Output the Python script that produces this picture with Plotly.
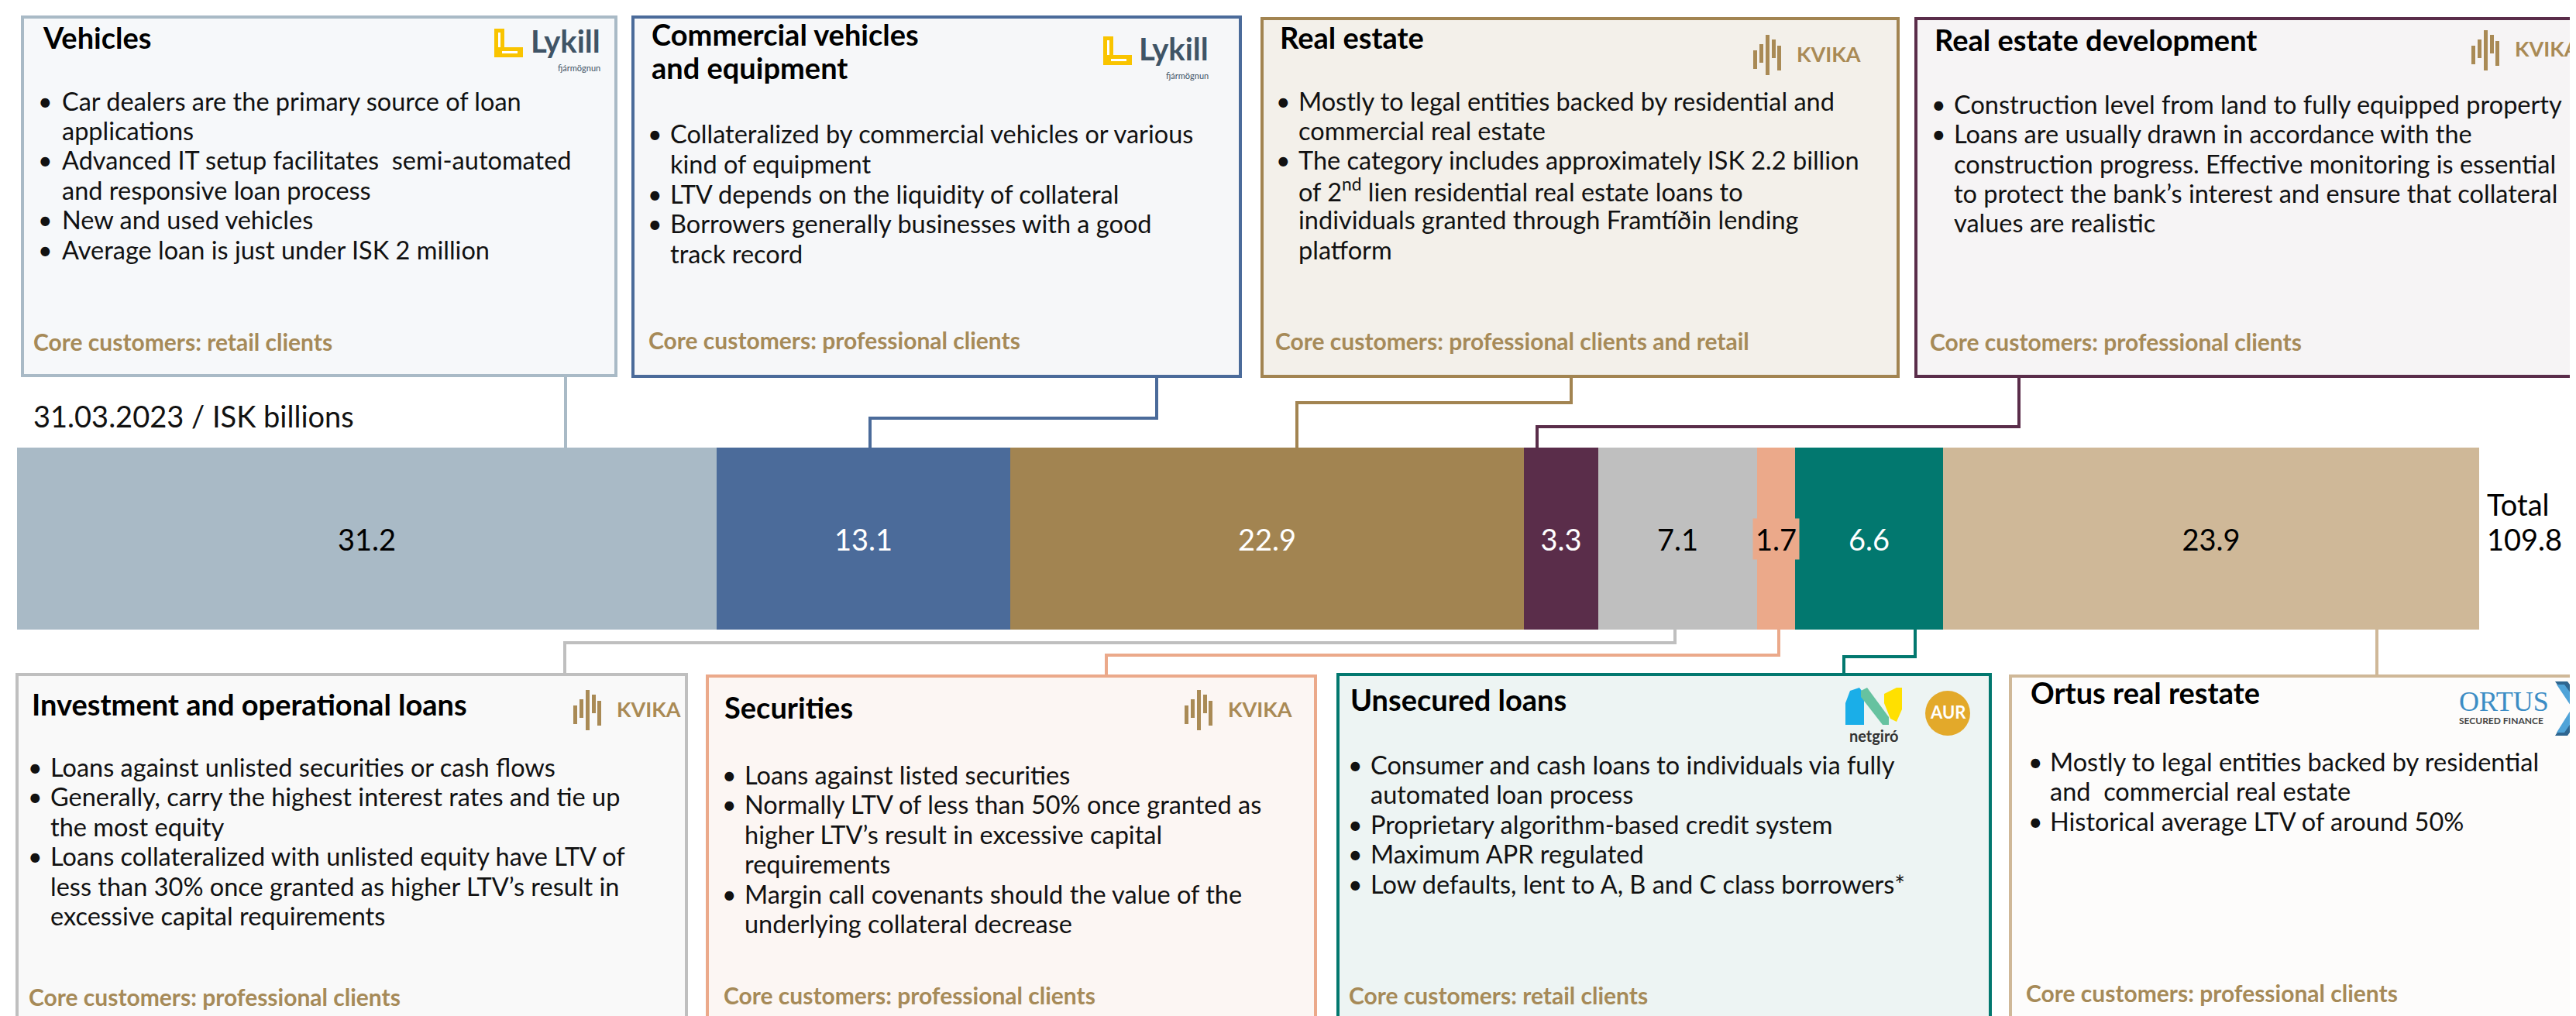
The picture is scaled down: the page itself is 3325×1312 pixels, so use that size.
import plotly.graph_objects as go

# ---------------- data ----------------
categories = ["Vehicles", "Commercial vehicles and equipment", "Real estate",
              "Real estate development", "Investment and operational loans",
              "Securities", "Unsecured loans", "Ortus real restate"]
values = [31.2, 13.1, 22.9, 3.3, 7.1, 1.7, 6.6, 23.9]
bar_colors = ["#A9BAC6", "#4B6B9A", "#A28451", "#5A2D4A",
              "#BFBFBF", "#EBA98A", "#02786F", "#CFB898"]
label_colors = ["#000000", "#FFFFFF", "#FFFFFF", "#FFFFFF",
                "#000000", "#000000", "#FFFFFF", "#000000"]
date_label = "31.03.2023 / ISK billions"
total_label = "Total"

box_titles = {
    "veh": ["Vehicles"],
    "com": ["Commercial vehicles", "and equipment"],
    "re": ["Real estate"],
    "red": ["Real estate development"],
    "inv": ["Investment and operational loans"],
    "sec": ["Securities"],
    "uns": ["Unsecured loans"],
    "ort": ["Ortus real restate"],
}
box_bullets = {
    "veh": [["Car dealers are the primary source of loan", "applications"],
            ["Advanced IT setup facilitates  semi-automated", "and responsive loan process"],
            ["New and used vehicles"],
            ["Average loan is just under ISK 2 million"]],
    "com": [["Collateralized by commercial vehicles or various", "kind of equipment"],
            ["LTV depends on the liquidity of collateral"],
            ["Borrowers generally businesses with a good", "track record"]],
    "re": [["Mostly to legal entities backed by residential and", "commercial real estate"],
           ["The category includes approximately ISK 2.2 billion",
            "of 2<sup>nd</sup> lien residential real estate loans to",
            "individuals granted through Framtíðin lending", "platform"]],
    "red": [["Construction level from land to fully equipped property"],
            ["Loans are usually drawn in accordance with the",
             "construction progress. Effective monitoring is essential",
             "to protect the bank’s interest and ensure that collateral",
             "values are realistic"]],
    "inv": [["Loans against unlisted securities or cash flows"],
            ["Generally, carry the highest interest rates and tie up", "the most equity"],
            ["Loans collateralized with unlisted equity have LTV of",
             "less than 30% once granted as higher LTV’s result in",
             "excessive capital requirements"]],
    "sec": [["Loans against listed securities"],
            ["Normally LTV of less than 50% once granted as",
             "higher LTV’s result in excessive capital", "requirements"],
            ["Margin call covenants should the value of the",
             "underlying collateral decrease"]],
    "uns": [["Consumer and cash loans to individuals via fully", "automated loan process"],
            ["Proprietary algorithm-based credit system"],
            ["Maximum APR regulated"],
            ["Low defaults, lent to A, B and C class borrowers*"]],
    "ort": [["Mostly to legal entities backed by residential",
             "and  commercial real estate"],
            ["Historical average LTV of around 50%"]],
}
box_core = {
    "veh": "Core customers: retail clients",
    "com": "Core customers: professional clients",
    "re": "Core customers: professional clients and retail",
    "red": "Core customers: professional clients",
    "inv": "Core customers: professional clients",
    "sec": "Core customers: professional clients",
    "uns": "Core customers: retail clients",
    "ort": "Core customers: professional clients",
}

# ---------------- layout geometry (pixels) ----------------
W, H = 3325, 1312
BAR_L, BAR_R = 14, 3192
BAR_T, BAR_B = 570, 805
FONT = "Lato"
GOLD = "#A68A58"
TY = -8  # vertical optical correction for text

total = round(sum(values), 1)
scale = (BAR_R - BAR_L) / total
x_range = [-BAR_L / scale, (W - BAR_L) / scale]

fig = go.Figure()
bases = []
acc = 0.0
for v in values:
    bases.append(acc)
    acc += v

for i, (cat, v) in enumerate(zip(categories, values)):
    kw = {}
    if v >= 2:
        kw = dict(text=[f"{v:.1f}"], textposition="inside",
                  insidetextanchor="middle", textangle=0, constraintext="none",
                  textfont=dict(family=FONT, size=38, color=label_colors[i]))
    fig.add_trace(go.Bar(
        x=[v], y=[(BAR_T + BAR_B) / 2], orientation="h", width=[BAR_B - BAR_T],
        name=cat, marker=dict(color=bar_colors[i], line=dict(width=0)),
        showlegend=False, hoverinfo="skip", **kw))

shapes = []
annotations = []


def px(x):
    return x / W


def py(y):
    return 1 - y / H


def rect(x0, y0, x1, y1, fill, line_color=None, lw=0):
    shapes.append(dict(type="rect", xref="paper", yref="paper",
                       x0=px(x0), x1=px(x1), y0=py(y1), y1=py(y0),
                       fillcolor=fill,
                       line=dict(color=line_color or fill, width=lw)))


def poly(points, color, lw, fill=None, closed=False):
    d = "M " + " L ".join(f"{px(x):.6f},{py(y):.6f}" for x, y in points)
    if closed:
        d += " Z"
    shapes.append(dict(type="path", xref="paper", yref="paper", path=d,
                       fillcolor=fill if fill else "rgba(0,0,0,0)",
                       line=dict(color=color, width=lw)))


def circle(cx, cy, r, fill):
    shapes.append(dict(type="circle", xref="paper", yref="paper",
                       x0=px(cx - r), x1=px(cx + r), y0=py(cy + r), y1=py(cy - r),
                       fillcolor=fill, line=dict(width=0)))


def text(x, y, s, size, color="#111111", bold=False, family=FONT, xanchor="left",
         yanchor="middle"):
    annotations.append(dict(xref="paper", yref="paper", x=px(x), y=py(y), text=s,
                            showarrow=False, xanchor=xanchor, yanchor=yanchor,
                            font=dict(family=family, size=size, color=color,
                                      weight=700 if bold else 400)))


# boxes: key -> (x0, y0, x1, y1, border, fill, title_x, title_ys, bullet_x, text_x, first_line, core_x, core_y)
boxes = {
    "veh": (21, 14, 787, 477, "#A9BAC6", "#F6F8FA", 50, [52], 52, 77, 130, 36, 441),
    "com": (809, 14, 1593, 478, "#4B6B9A", "#F6F7F9", 836, [48, 91], 839, 862, 173, 830, 439),
    "re": (1621, 16, 2442, 478, "#A28451", "#F3F0EA", 1647, [52], 1650, 1673, 130, 1639, 440),
    "red": (2465, 16, 3340, 478, "#5A2D4A", "#F6F4F5", 2492, [55], 2496, 2519, 134, 2484, 441),
    "inv": (14, 863, 878, 1330, "#BFBFBF", "#F9F9F9", 36, [913], 39, 62, 990, 30, 1287),
    "sec": (905, 865, 1690, 1330, "#EBA98A", "#FCF6F3", 930, [917], 935, 958, 1000, 927, 1285),
    "uns": (1719, 863, 2561, 1330, "#02786F", "#EDF4F3", 1738, [907], 1743, 1766, 987, 1734, 1285),
    "ort": (2587, 865, 3340, 1330, "#CFB898", "#FDFCFB", 2616, [898], 2621, 2643, 983, 2608, 1282),
}
LINE_H = 38.5

for key, (x0, y0, x1, y1, bc, fc, tx, tys, bx, txx, fl, cx, cy) in boxes.items():
    rect(x0, y0, x1, y1, fc, bc, 4)
    for t, ty in zip(box_titles[key], tys):
        text(tx - 5, ty + TY - 4, t, 38, "#000000", bold=True)
    li = 0
    for bullet in box_bullets[key]:
        for j, line in enumerate(bullet):
            yy = fl + li * LINE_H + TY
            if j == 0:
                text(bx - 13, yy, "•", 32, "#111111")
            text(txx - 7, yy, line, 32.5, "#111111")
            li += 1
    text(cx - 3, cy + TY, box_core[key], 30, GOLD, bold=True)

# connectors
conn = [
    ([(722, 477), (722, BAR_T)], "#A9BAC6"),
    ([(1485, 478), (1485, 532), (1115, 532), (1115, BAR_T)], "#4B6B9A"),
    ([(2020, 478), (2020, 512), (1666, 512), (1666, BAR_T)], "#A28451"),
    ([(2598, 478), (2598, 543), (1976, 543), (1976, BAR_T)], "#5A2D4A"),
    ([(2154, BAR_B), (2154, 822), (721, 822), (721, 863)], "#BFBFBF"),
    ([(2288, BAR_B), (2288, 838), (1420, 838), (1420, 865)], "#EBA98A"),
    ([(2464, BAR_B), (2464, 840), (2372, 840), (2372, 863)], "#02786F"),
    ([(3060, BAR_B), (3060, 865)], "#CFB898"),
]
for pts, c in conn:
    poly(pts, c, 4)


# ---------------- logos ----------------
def lykill(ix, iy, right):
    yel = "#F9C400"
    rect(ix, iy, ix + 13, iy + 37, yel)
    rect(ix, iy + 24, ix + 37, iy + 37, yel)
    rect(ix + 5, iy + 5, ix + 8, iy + 24, "#FFFFFF")
    rect(ix + 10, iy + 29, ix + 30, iy + 32, "#FFFFFF")
    text(right, iy + 42, "Lykill", 40, "#3F5466", bold=True, xanchor="right", yanchor="bottom")
    text(right, iy + 42, "fjármögnun", 11, "#3F5466", xanchor="right", yanchor="top")


lykill(630, 29, 769)
lykill(1416, 39, 1554)

KV = "#A98A55"


def kvika(ix, cy):
    bars = [(0, -6, 18), (8, -14, 10), (16, -26, 26), (24, -20, 4), (31, -12, 20)]
    for dx, a, b in bars:
        rect(ix + dx, cy + a, ix + dx + 5, cy + b, KV)
    text(ix + 54, cy - 2, "KVIKA", 27, KV, bold=True)


kvika(2255, 63)
kvika(3182, 57)
kvika(732, 909)
kvika(1521, 909)

# netgiro
poly([(2374, 928), (2374, 900), (2380, 884), (2392, 880), (2398, 888), (2398, 928)], "#1AAEE8", 0,
     fill="#1AAEE8", closed=True)
poly([(2394, 884), (2402, 880), (2430, 918), (2430, 928), (2422, 928), (2394, 892)], "#66C2A0", 0,
     fill="#66C2A0", closed=True)
poly([(2424, 900), (2424, 888), (2440, 880), (2447, 880), (2447, 908), (2440, 924), (2432, 920)],
     "#FFE000", 0, fill="#FFE000", closed=True)
text(2411, 942, "netgiró", 20, "#333333", bold=True, xanchor="center")

# AUR
circle(2506, 913, 29, "#E3A92A")
text(2506, 911, "AUR", 22, "#FFFFFF", bold=True, xanchor="center")

# ORTUS
text(3164, 898, "ORTUS", 36, "#3C8DC5", family="Liberation Serif")
text(3164, 922, "SECURED FINANCE", 12, "#444444", bold=True)
poly([(3290, 872), (3306, 872), (3332, 906), (3306, 942), (3290, 942), (3314, 906)],
     "#2F6690", 0, fill="#2F6690", closed=True)
poly([(3292, 876), (3302, 876), (3324, 906), (3302, 938), (3292, 938), (3312, 906)],
     "#4FA3D8", 0, fill="#4FA3D8", closed=True)

# date label
text(33, 535 + TY + 2, date_label, 38, "#111111")

# small-bar label with background (data position)
for i, v in enumerate(values):
    if v < 2:
        annotations.append(dict(xref="x", yref="y", x=bases[i] + v / 2, y=(BAR_T + BAR_B) / 2,
                                text=f"{v:.1f}", showarrow=False, bgcolor=bar_colors[i],
                                borderpad=3, font=dict(family=FONT, size=38, color=label_colors[i])))

# total
annotations.append(dict(xref="x", yref="y", x=total, y=643, xanchor="left", xshift=8,
                        text=total_label, showarrow=False,
                        font=dict(family=FONT, size=38, color="#000000")))
annotations.append(dict(xref="x", yref="y", x=total, y=688, xanchor="left", xshift=8,
                        text=f"{total:.1f}", showarrow=False,
                        font=dict(family=FONT, size=38, color="#000000")))

fig.update_layout(
    width=W, height=H, margin=dict(l=0, r=0, t=0, b=0),
    paper_bgcolor="#FFFFFF", plot_bgcolor="rgba(0,0,0,0)",
    barmode="stack", bargap=0,
    xaxis=dict(range=x_range, visible=False, fixedrange=True),
    yaxis=dict(range=[H, 0], visible=False, fixedrange=True),
    shapes=shapes, annotations=annotations, showlegend=False,
)

fig.write_html("out.html")
